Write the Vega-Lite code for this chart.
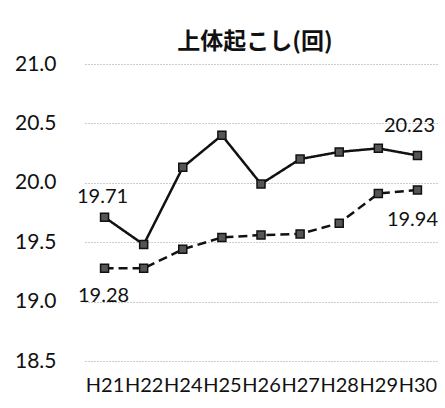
{
  "$schema": "https://vega.github.io/schema/vega-lite/v6.json",
  "autosize": "none",
  "width": 352,
  "height": 297,
  "padding": {"left": 85, "top": 64, "right": 8, "bottom": 47},
  "background": "white",
  "config": {"view": {"stroke": null}, "font": "Lato"},
  "title": {"text": "上体起こし(回)", "font": "Noto Sans CJK JP", "fontSize": 23, "fontWeight": "bold", "color": "#111", "anchor": "middle", "offset": -1, "dx": -6},
  "data": {"values": [
    {"year": "H21", "series": "A", "value": 19.71},
    {"year": "H22", "series": "A", "value": 19.48},
    {"year": "H24", "series": "A", "value": 20.13},
    {"year": "H25", "series": "A", "value": 20.40},
    {"year": "H26", "series": "A", "value": 19.99},
    {"year": "H27", "series": "A", "value": 20.20},
    {"year": "H28", "series": "A", "value": 20.26},
    {"year": "H29", "series": "A", "value": 20.29},
    {"year": "H30", "series": "A", "value": 20.23},
    {"year": "H21", "series": "B", "value": 19.28},
    {"year": "H22", "series": "B", "value": 19.28},
    {"year": "H24", "series": "B", "value": 19.44},
    {"year": "H25", "series": "B", "value": 19.54},
    {"year": "H26", "series": "B", "value": 19.56},
    {"year": "H27", "series": "B", "value": 19.57},
    {"year": "H28", "series": "B", "value": 19.66},
    {"year": "H29", "series": "B", "value": 19.91},
    {"year": "H30", "series": "B", "value": 19.94}
  ]},
  "encoding": {
    "x": {"field": "year", "type": "ordinal", "sort": null,
      "scale": {"type": "point", "padding": 0.5},
      "axis": {"title": null, "labelAngle": 0, "domain": false, "ticks": false, "grid": false, "labelFontSize": 20, "labelColor": "#111", "labelPadding": 14}},
    "y": {"field": "value", "type": "quantitative",
      "scale": {"domain": [18.5, 21.0], "nice": false, "zero": false},
      "axis": {"title": null, "values": [18.5, 19.0, 19.5, 20.0, 20.5, 21.0], "format": ".1f", "domain": false, "ticks": false, "labelFontSize": 21, "labelColor": "#111", "labelPadding": 29, "gridColor": "#999", "gridDash": [1, 2], "gridWidth": 1}}
  },
  "layer": [
    {
      "mark": {"type": "line", "color": "#111", "strokeWidth": 2.5},
      "encoding": {
        "detail": {"field": "series"},
        "strokeDash": {"field": "series", "type": "nominal", "scale": {"domain": ["A", "B"], "range": [[1, 0], [9, 5]]}, "legend": null}
      }
    },
    {
      "mark": {"type": "square", "size": 64, "filled": true, "color": "#555", "stroke": "#111", "strokeWidth": 1.5, "opacity": 1}
    },
    {
      "transform": [{"filter": "datum.series == 'A' && datum.year == 'H21'"}],
      "mark": {"type": "text", "fontSize": 20, "color": "#111", "dx": -2, "dy": -20},
      "encoding": {"text": {"field": "value", "format": ".2f"}}
    },
    {
      "transform": [{"filter": "datum.series == 'B' && datum.year == 'H21'"}],
      "mark": {"type": "text", "fontSize": 20, "color": "#111", "dx": -1, "dy": 28},
      "encoding": {"text": {"field": "value", "format": ".2f"}}
    },
    {
      "transform": [{"filter": "datum.series == 'A' && datum.year == 'H30'"}],
      "mark": {"type": "text", "fontSize": 20, "color": "#111", "dx": -8, "dy": -29},
      "encoding": {"text": {"field": "value", "format": ".2f"}}
    },
    {
      "transform": [{"filter": "datum.series == 'B' && datum.year == 'H30'"}],
      "mark": {"type": "text", "fontSize": 20, "color": "#111", "dx": -5, "dy": 30},
      "encoding": {"text": {"field": "value", "format": ".2f"}}
    }
  ]
}
